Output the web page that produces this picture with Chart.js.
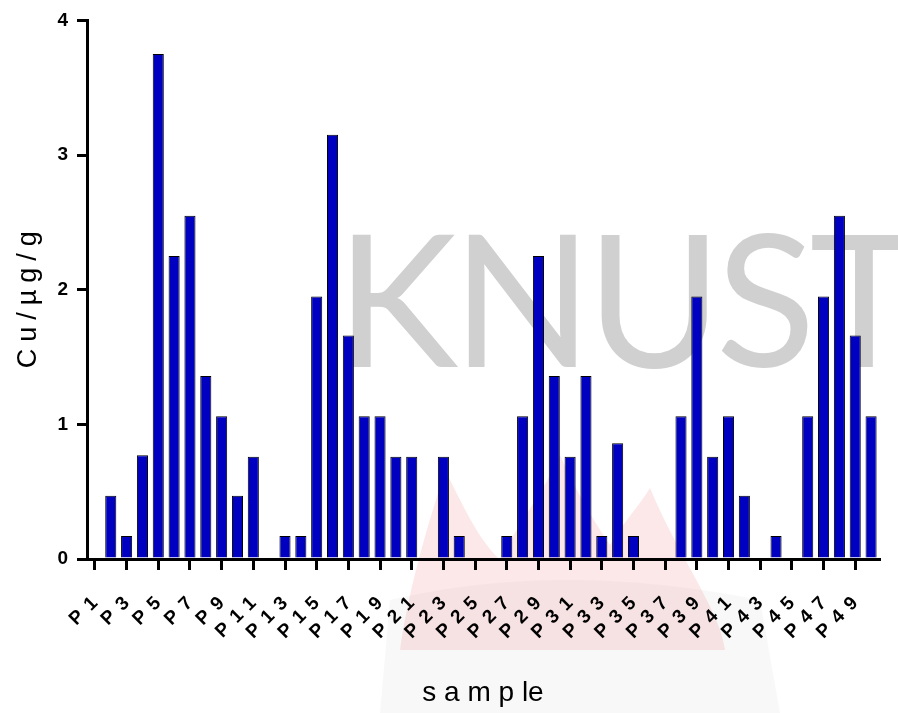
<!DOCTYPE html>
<html>
<head>
<meta charset="utf-8">
<script src="https://cdn.jsdelivr.net/npm/chart.js@4.4.0/dist/chart.umd.min.js"></script>
<style>
  html, body { margin: 0; padding: 0; background: #fff; }
  #wrap { width: 898px; height: 713px; }
</style>
</head>
<body>
<div id="wrap"><canvas id="cuChart" width="898" height="713"></canvas></div>
<script>
// samples P1..P50, copper content in ug/g
var samples = ['P1', 'P2', 'P3', 'P4', 'P5', 'P6', 'P7', 'P8', 'P9', 'P10',
    'P11', 'P12', 'P13', 'P14', 'P15', 'P16', 'P17', 'P18', 'P19', 'P20',
    'P21', 'P22', 'P23', 'P24', 'P25', 'P26', 'P27', 'P28', 'P29', 'P30',
    'P31', 'P32', 'P33', 'P34', 'P35', 'P36', 'P37', 'P38', 'P39', 'P40',
    'P41', 'P42', 'P43', 'P44', 'P45', 'P46', 'P47', 'P48', 'P49', 'P50'];
var cuValues = [0, 0.47, 0.17, 0.77, 3.75, 2.25, 2.55, 1.36, 1.06, 0.47,
    0.76, 0, 0.17, 0.17, 1.95, 3.15, 1.66, 1.06, 1.06, 0.76,
    0.76, 0, 0.76, 0.17, 0, 0, 0.17, 1.06, 2.25, 1.36,
    0.76, 1.36, 0.17, 0.86, 0.17, 0, 0, 1.06, 1.95, 0.76,
    1.06, 0.47, 0, 0.17, 0, 1.06, 1.95, 2.55, 1.66, 1.06];
var yMin = 0;
var yMax = 4;
var yStep = 1;

var fam = '"Liberation Sans", Arial, sans-serif';

// faint KNUST watermark behind the plot
var watermark = {
    id: 'watermark',
    beforeDraw: function(chart) {
        var c = chart.ctx;
        c.save();
        // crest + flame, very faint
        c.fillStyle = 'rgba(160, 160, 160, 0.08)';
        c.beginPath();
        c.moveTo(380, 713);
        c.lineTo(390, 600);
        c.quadraticCurveTo(560, 560, 760, 600);
        c.lineTo(780, 713);
        c.closePath();
        c.fill();
        c.fillStyle = 'rgba(235, 110, 110, 0.16)';
        c.beginPath();
        c.moveTo(400, 650);
        c.bezierCurveTo(410, 580, 430, 520, 445, 470);
        c.bezierCurveTo(470, 520, 480, 540, 500, 560);
        c.bezierCurveTo(520, 520, 545, 490, 560, 455);
        c.bezierCurveTo(580, 500, 600, 530, 610, 545);
        c.bezierCurveTo(625, 520, 640, 505, 650, 488);
        c.bezierCurveTo(680, 560, 720, 610, 725, 650);
        c.closePath();
        c.fill();
        // text
        c.fillStyle = '#d0d0d0';
        c.font = '400 184px Lato, "Liberation Sans", sans-serif';
        c.letterSpacing = '-6px';
        c.textBaseline = 'alphabetic';
        c.fillText('KNUST', 336, 367);
        c.restore();
    }
};

// x labels and y title in the original are letter-spaced
var spacing = {
    id: 'spacing',
    beforeDraw: function(chart) {
        var sx = chart.scales.x;
        var sy = chart.scales.y;
        if (!sx.spaced) {
            var drawLabels = sx.drawLabels;
            sx.drawLabels = function(area) {
                var c = this.ctx;
                c.save();
                c.letterSpacing = '8px';
                c.translate(5.5, -5.5);
                drawLabels.call(this, area);
                c.restore();
            };
            sx.spaced = true;
        }
        if (!sy.spaced) {
            var drawTitle = sy.drawTitle;
            sy.drawTitle = function() {
                var c = this.ctx;
                c.save();
                c.letterSpacing = '7px';
                c.translate(0, 6.5);
                drawTitle.call(this);
                c.restore();
            };
            sy.spaced = true;
        }
    }
};

document.addEventListener('DOMContentLoaded', function() {
    var ctx = document.getElementById('cuChart').getContext('2d');

    new Chart(ctx, {
        type: 'bar',
        data: {
            labels: samples,
            datasets: [{
                label: 'Cu',
                data: cuValues,
                backgroundColor: '#0000c0',
                borderColor: '#000000',
                borderWidth: 1,
                barPercentage: 0.7,
                categoryPercentage: 1.0
            }]
        },
        options: {
            responsive: false,
            animation: false,
            devicePixelRatio: 1,
            layout: {
                padding: { top: 17, right: 19, left: 0, bottom: 0 }
            },
            plugins: {
                legend: { display: false },
                tooltip: { enabled: false }
            },
            scales: {
                x: {
                    offset: true,
                    grid: {
                        offset: false,
                        drawOnChartArea: false,
                        tickLength: 11,
                        lineWidth: 3,
                        tickWidth: 3,
                        tickColor: function(c) {
                            return c.index % 2 === 0 ? '#000' : 'rgba(0,0,0,0)';
                        }
                    },
                    border: { display: true, color: '#000', width: 3 },
                    ticks: {
                        autoSkip: false,
                        minRotation: 45,
                        maxRotation: 45,
                        padding: 22,
                        color: '#000',
                        font: { family: fam, size: 19, weight: 'bold' },
                        callback: function(value, index) {
                            return index % 2 === 0 ? this.getLabelForValue(value) : '';
                        }
                    },
                    title: {
                        display: true,
                        text: 's a m p le',
                        color: '#000',
                        font: { family: fam, size: 28 },
                        padding: { top: 0, bottom: 3 }
                    },
                    afterFit: function(scale) {
                        scale.height = 154;
                        scale.paddingLeft = 0;
                        scale.paddingRight = 0;
                    }
                },
                y: {
                    min: yMin,
                    max: yMax,
                    grid: {
                        drawOnChartArea: false,
                        tickLength: 10,
                        lineWidth: 3,
                        tickWidth: 3,
                        tickColor: '#000'
                    },
                    border: { display: true, color: '#000', width: 3 },
                    ticks: {
                        stepSize: yStep,
                        padding: 9,
                        color: '#000',
                        font: { family: fam, size: 19, weight: 'bold' }
                    },
                    title: {
                        display: true,
                        text: 'Cu/µg/g',
                        color: '#000',
                        font: { family: fam, size: 27 },
                        padding: { top: 12, bottom: 0 }
                    },
                    afterFit: function(scale) {
                        scale.width = 87;
                    }
                }
            }
        },
        plugins: [watermark, spacing]
    });
});
</script>
</body>
</html>
